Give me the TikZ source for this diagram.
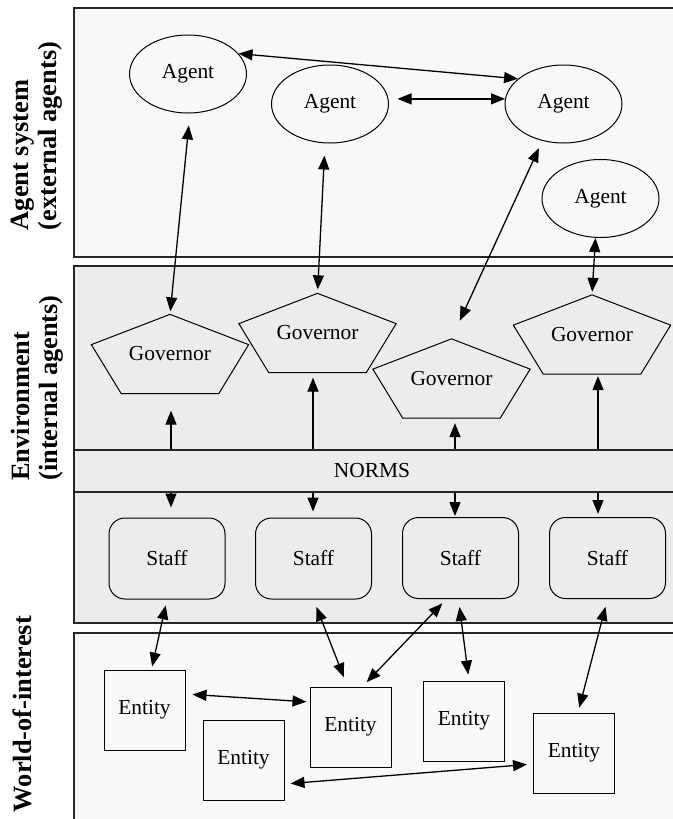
\documentclass[tikz,border=0pt]{standalone}
\usepackage{fontspec}
\setmainfont{Liberation Serif}
\usetikzlibrary{shapes.geometric,arrows.meta,calc}

\definecolor{paleback}{gray}{0.973}
\definecolor{envback}{gray}{0.925}

\tikzset{
  agent/.style={ellipse, draw, line width=0.5pt, minimum width=58.5pt, minimum height=39pt, inner sep=0pt},
  governor/.style={rectangle, minimum width=78pt, minimum height=39pt, inner sep=0pt},
  staff/.style={rectangle, rounded corners=8pt, draw, line width=0.5pt, minimum width=58pt, minimum height=40.5pt},
  entity/.style={rectangle, draw, line width=0.5pt, minimum width=40.5pt, minimum height=40pt},
  panel/.style={draw=black!85, line width=1pt},
  side/.style={rotate=90, align=left, font=\fontsize{13.2}{14}\selectfont\bfseries}
}

\begin{document}
\begin{tikzpicture}[x=0.5pt, y=-0.5pt, font=\fontsize{10.7}{12.8}\selectfont,
    >={Triangle[length=7pt,width=5.5pt]}, line width=0.65pt]

   \useasboundingbox (0,0) rectangle (673,819);
   \clip (0,0) rectangle (673,819);

   % layers
   \draw[panel, fill=paleback] (74,8) rectangle (700,257);
   \draw[panel, fill=envback] (74,266) rectangle (700,623);
   \draw[panel, fill=envback] (74,450) rectangle (700,492);
   \draw[panel, fill=paleback] (74,633) rectangle (700,840);

   \node[side] (lagents) at (37,136) {Agent system\\(external agents)};
   \node[side] (lenv) at (37,388) {Environment\\(internal agents)};
   \node[side] (lworld) at (22,714) {World-of-interest};

   \node[minimum height=21pt] (norms) at (372,471) {NORMS};

   \foreach \x/\y/\t in {188/74/1, 330/104/2, 563.5/104/3, 600.5/198.5/4}
     \node[agent] (a\t) at (\x,\y) {Agent};

   \foreach \x/\y/\t in {170/354/1, 317.5/333/2, 451.5/378.5/3, 592/334.5/4}
     \node[governor] (g\t) at (\x,\y) {Governor};

   \foreach \n in {g1,g2,g3,g4}
     \draw[line width=0.5pt] (\n.north) -- ($(\n.north west)!0.382!(\n.south west)$)
        -- ($(\n.south west)!0.19!(\n.south east)$) -- ($(\n.south east)!0.19!(\n.south west)$)
        -- ($(\n.north east)!0.382!(\n.south east)$) -- cycle;

   \foreach \x/\y/\t in {167/558.5/1, 313.5/558.5/2, 460.5/558/3, 607.5/558/4}
     \node[staff] (s\t) at (\x,\y) {Staff};

   \foreach \x/\y/\t in {144.5/710/1, 243.5/760/2, 350.5/727/3, 464/721/4, 574/753/5}
     \node[entity] (e\t) at (\x,\y) {Entity};

   % agents and governors
   \draw[<->] (a1.22) -- (a3.151);
   \draw[<->, shorten <=4.5pt] (a2.5) -- (a3.175);
   \draw[<->, shorten <=6pt, shorten >=1.5pt] ([xshift=1pt]a1.south) -- (g1.north);
   \draw[<->, shorten <=6pt, shorten >=2pt] ([xshift=-2.5pt]a2.south) -- (g2.north);
   \draw[<->, shorten <=4pt, shorten >=10pt] (a3.240) -- (g3.north);
   \draw[<->, shorten >=1.5pt] ([xshift=-2.5pt]a4.south) -- (g4.north);

   % norms
   \foreach \g/\s/\x/\u/\d in {g1/s1/171/8.5/5, g2/s2/313/2.5/3, g3/s3/455/2.5/0.5, g4/s4/598/1/1.5} {
     \draw[->, shorten >=\u pt] (norms.north -| \x,0) -- (\g.south -| \x,0);
     \draw[->, shorten >=\d pt] (norms.south -| \x,0) -- (\s.north -| \x,0);
   }

   % staff and entities
   \draw[<->, shorten <=3pt, shorten >=1.5pt] (s1.south) -- ([xshift=3.5pt]e1.north);
   \draw[<->, shorten <=4pt, shorten >=5pt] (s2.south) -- ([xshift=-1.5pt]e3.north);
   \draw[<->, shorten <=3pt, shorten >=3pt] ([xshift=-7pt]s3.south) -- ([xshift=6pt]e3.north);
   \draw[<->, shorten <=4pt, shorten >=3pt] ([xshift=-1pt]s3.south) -- ([xshift=2.5pt]e4.north);
   \draw[<->, shorten <=4pt, shorten >=2.5pt] (s4.south) -- ([xshift=2pt]e5.north);
   \draw[<->, shorten <=3.5pt, shorten >=1.5pt] ([yshift=8pt]e1.east) -- ([yshift=12.5pt]e3.west);
   \draw[<->, shorten <=3pt, shorten >=3pt] ([yshift=-12pt]e2.east) -- ([yshift=-5.5pt]e5.west);

\end{tikzpicture}
\end{document}
